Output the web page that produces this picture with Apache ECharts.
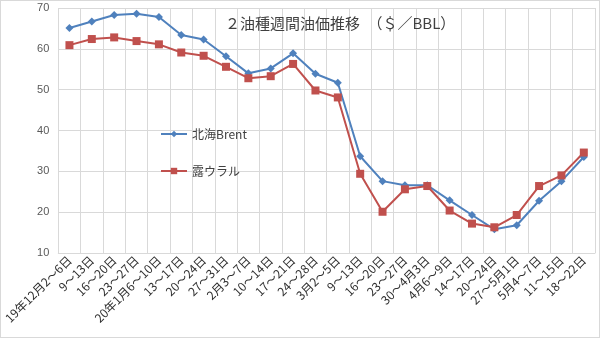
<!DOCTYPE html>
<html><head><meta charset="utf-8">
<script src="https://cdn.jsdelivr.net/npm/echarts@6/dist/echarts.min.js"></script>
<style>html,body{margin:0;padding:0;background:#fff}#c{width:598px;height:336px;border:1px solid #d9d9d9}</style>
</head><body><div id="c"></div>
<script>
const categories = ['19年12月2～6日','9～13日','16～20日','23～27日','20年1月6～10日','13～17日','20～24日','27～31日','2月3～7日','10～14日','17～21日','24～28日','3月2～5日','9～13日','16～20日','23～27日','30～4月3日','4月6～9日','14～17日','20～24日','27～5月1日','5月4～7日','11～15日','18～22日'];
const brent = [65.1,66.7,68.3,68.6,67.8,63.4,62.3,58.2,54.0,55.2,58.9,53.9,51.7,33.7,27.6,26.6,26.6,22.9,19.3,15.8,16.8,22.8,27.6,33.5];
const urals = [60.9,62.4,62.8,61.9,61.1,59.1,58.3,55.6,52.8,53.3,56.3,49.8,48.1,29.4,20.1,25.6,26.4,20.4,17.2,16.3,19.3,26.4,29.0,34.6];
const yTicks = {min:10, max:70, interval:10};
const chart = echarts.init(document.getElementById('c'), null, {renderer:'canvas'});
chart.setOption({
  animation:false,
  title:{text:'２油種週間油価推移　（＄／BBL）', left:219, top:10,
    textStyle:{fontFamily:'Noto Sans CJK JP', fontSize:15, fontWeight:'normal', color:'#404040'}},
  legend:{orient:'vertical', left:154, top:122, itemGap:25, itemWidth:26, itemHeight:8,
    textStyle:{fontFamily:'Noto Sans CJK JP', fontSize:12, color:'#404040'},
    data:['北海Brent','露ウラル']},
  grid:{left:52, right:4, top:7, bottom:84},
  xAxis:{type:'category', data:categories, boundaryGap:true,
    axisLine:{lineStyle:{color:'#d9d9d9'}}, axisTick:{show:false},
    splitLine:{show:true, lineStyle:{color:'#d9d9d9'}},
    axisLabel:{rotate:45, interval:0, fontSize:12, color:'#303030', fontFamily:'Noto Sans CJK JP', margin:5}},
  yAxis:{type:'value', min:yTicks.min, max:yTicks.max, interval:yTicks.interval,
    axisLine:{show:false}, axisTick:{show:false},
    splitLine:{lineStyle:{color:'#d9d9d9'}},
    axisLabel:{fontSize:11, color:'#595959', fontFamily:'Liberation Sans', margin:9}},
  series:[
    {name:'北海Brent', type:'line', data:brent, symbol:'diamond', symbolSize:8,
      itemStyle:{color:'#4f81bd'}, lineStyle:{width:2, color:'#4f81bd'}},
    {name:'露ウラル', type:'line', data:urals, symbol:'rect', symbolSize:8,
      itemStyle:{color:'#c0504d'}, lineStyle:{width:2, color:'#c0504d'}}
  ]
});
</script></body></html>
